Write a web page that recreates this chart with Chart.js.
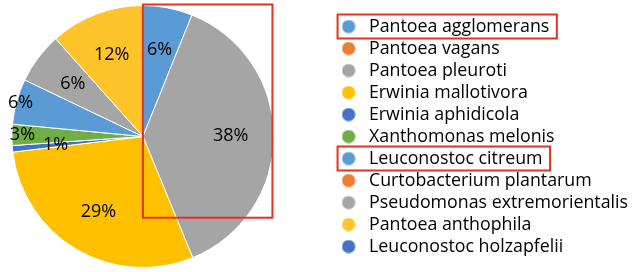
<!DOCTYPE html>
<html>
<head>
<meta charset="utf-8">
<script src="https://cdn.jsdelivr.net/npm/chart.js@4/dist/chart.umd.min.js"></script>
<style>
  html, body { margin: 0; padding: 0; background: #ffffff; overflow: hidden; }
  #wrap { width: 640px; height: 272px; position: relative; overflow: hidden; }
  #c { position: absolute; left: -47px; top: 0; }
</style>
</head>
<body>
<div id="wrap"><canvas id="c" width="687" height="272"></canvas></div>
<script>
const categories = [
  'Pantoea agglomerans',
  'Pantoea vagans',
  'Pantoea pleuroti',
  'Erwinia mallotivora',
  'Erwinia aphidicola',
  'Xanthomonas melonis',
  'Leuconostoc citreum',
  'Curtobacterium plantarum',
  'Pseudomonas extremorientalis',
  'Pantoea anthophila',
  'Leuconostoc holzapfelii'
];
const shares = [6.1, 0, 37.7, 29.3, 0.8, 2.6, 5.6, 0, 6.3, 11.6, 0];
const sliceColors = [
  '#5B9BD5', '#ED7D31', '#A5A5A5', '#FFC000', '#4472C4', '#70AD47',
  '#5B9BD5', '#ED7D31', '#A5A5A5', '#FFC42A', '#4472C4'
];
const highlighted = [0, 6];

const FONT = '"Open Sans", Lato, sans-serif';

// round legend markers drawn as small canvases
function dot(color) {
  const c = document.createElement('canvas');
  c.width = 14; c.height = 14;
  const g = c.getContext('2d');
  g.fillStyle = color;
  g.beginPath();
  g.arc(7, 7, 6.6, 0, Math.PI * 2);
  g.fill();
  return c;
}

const pieLabels = {
  id: 'pieLabels',
  afterDatasetsDraw(chart, args, opts) {
    const ctx = chart.ctx;
    const meta = chart.getDatasetMeta(0);
    const data = chart.data.datasets[0].data;
    const total = data.reduce((a, b) => a + b, 0);
    ctx.save();
    ctx.font = opts.size + 'px ' + FONT;
    ctx.fillStyle = '#000';
    ctx.textAlign = 'center';
    ctx.textBaseline = 'middle';
    meta.data.forEach((arc, i) => {
      const v = data[i];
      if (!v) return;
      const p = arc.getProps(['x', 'y', 'startAngle', 'endAngle', 'outerRadius'], true);
      const mid = (p.startAngle + p.endAngle) / 2;
      const f = (opts.radiusFactor && opts.radiusFactor[i] != null) ? opts.radiusFactor[i] : opts.defaultFactor;
      const r = p.outerRadius * f;
      ctx.fillText(Math.round(v / total * 100) + '%', p.x + Math.cos(mid) * r, p.y + Math.sin(mid) * r);
    });
    ctx.restore();
  }
};

const redBoxes = {
  id: 'redBoxes',
  afterDraw(chart) {
    const ctx = chart.ctx;
    const arc = chart.getDatasetMeta(0).data[0];
    const p = arc.getProps(['x', 'y', 'outerRadius'], true);
    ctx.save();
    ctx.strokeStyle = '#E5321F';
    ctx.lineWidth = 2;
    const l = p.x, t = p.y - p.outerRadius - 1;
    const r = p.x + p.outerRadius - 1.5, b = p.y + p.outerRadius * 0.62;
    ctx.strokeRect(l, t, r - l, b - t);
    const hb = chart.legend.legendHitBoxes || [];
    highlighted.forEach(i => {
      const h = hb[i];
      if (!h) return;
      const cy = h.top + h.height / 2;
      ctx.strokeRect(h.left + 0.5, cy - 12, h.width + 7, 24);
    });
    ctx.restore();
  }
};

new Chart(document.getElementById('c'), {
  type: 'pie',
  data: {
    labels: categories,
    datasets: [{
      data: shares,
      backgroundColor: sliceColors,
      borderColor: '#ffffff',
      borderWidth: 1
    }]
  },
  options: {
    responsive: false,
    animation: false,
    layout: { padding: { top: 5, bottom: 4, left: 0, right: 2 } },
    plugins: {
      tooltip: { enabled: false },
      legend: {
        position: 'right',
        align: 'center',
        labels: {
          usePointStyle: true,
          pointStyle: 'circle',
          pointStyleWidth: 23,
          boxHeight: 9.6,
          padding: 4.2,
          color: '#000000',
          font: { family: FONT, size: 17.8 },
          generateLabels(chart) {
            const items = Chart.controllers.pie.overrides.plugins.legend.labels.generateLabels(chart);
            items.forEach(it => { it.pointStyle = dot(it.fillStyle); });
            return items;
          }
        }
      },
      pieLabels: {
        size: 18,
        defaultFactor: 0.67,
        radiusFactor: { 5: 0.92, 6: 0.97 }
      }
    }
  },
  plugins: [pieLabels, redBoxes]
});
</script>
</body>
</html>
